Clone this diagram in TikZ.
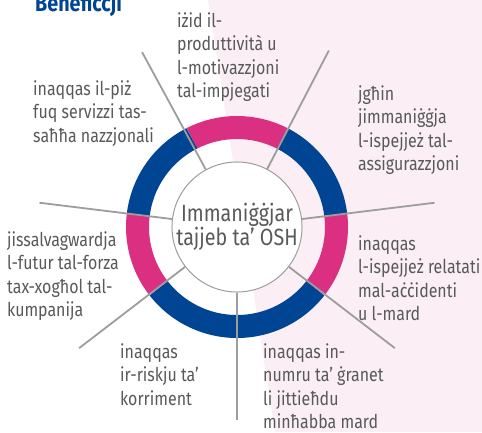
\documentclass[tikz,border=0pt]{standalone}
\usepackage{fontspec}
\setmainfont{Fira Sans}[FakeStretch=0.84]
\usetikzlibrary{calc}
\definecolor{osgray}{RGB}{88,89,91}
\definecolor{spokegray}{RGB}{157,157,157}
\definecolor{ringpink}{RGB}{219,48,130}
\definecolor{ringblue}{RGB}{0,68,148}
\definecolor{bgpink}{RGB}{251,239,245}
\tikzset{
  lbl/.style={anchor=base west, align=left, inner sep=0pt, text=osgray,
    font=\fontsize{19}{23.5}\selectfont},
  spoke/.style={draw=spokegray, line width=1.8pt},
  pinkseg/.style={draw=ringpink, line width=23pt},
  blueseg/.style={draw=ringblue, line width=23pt},
}
\begin{document}
\begin{tikzpicture}[x=1pt, y=-1pt]
  \useasboundingbox (0,0) rectangle (482,432);
  % background
  \fill[bgpink] (208,0) -- (482,0) -- (482,432) -- (275,432) -- cycle;
  % hub
  \node[circle, draw=spokegray, line width=1pt, fill=white, minimum size=128pt,
    inner sep=0pt, align=center, text=osgray,
    font=\fontsize{23.5}{21}\selectfont] (hub) at (237,227) {Immaniġġjar\\tajjeb ta’ OSH};
  % ring
  \draw[pinkseg] (hub.center) ++(-63:99.5) arc[start angle=-63, end angle=-117, radius=99.5];
  \draw[blueseg] (hub.center) ++(-7:99.5) arc[start angle=-7, end angle=-63, radius=99.5];
  \draw[pinkseg] (hub.center) ++(38:99.5) arc[start angle=38, end angle=-7, radius=99.5];
  \draw[blueseg] (hub.center) ++(142:99.5) arc[start angle=142, end angle=38, radius=99.5];
  \draw[pinkseg] (hub.center) ++(-173:99.5) arc[start angle=-173, end angle=-218, radius=99.5];
  \draw[blueseg] (hub.center) ++(-117:99.5) arc[start angle=-117, end angle=-173, radius=99.5];
  % spoke ends
  \coordinate (eprod) at ($(hub.center)+(-62.5:199)$);
  \coordinate (ecost) at ($(hub.center)+(-7:199)$);
  \coordinate (eacc) at ($(hub.center)+(37.5:199)$);
  \coordinate (edays) at ($(hub.center)+(90:193)$);
  \coordinate (erisk) at ($(hub.center)+(142.5:199)$);
  \coordinate (ework) at ($(hub.center)+(-173:199)$);
  \coordinate (enat) at ($(hub.center)+(-118.5:199)$);
  \draw[spoke] (hub) -- (eprod);
  \draw[spoke] (hub) -- (ecost);
  \draw[spoke] (hub) -- (eacc);
  \draw[spoke] (hub) -- (edays);
  \draw[spoke] (hub) -- (erisk);
  \draw[spoke] (hub) -- (ework);
  \draw[spoke] (hub) -- (enat);
  % labels (anchored at the baseline of their last line)
  \node[anchor=base west, inner sep=0pt, text=ringblue,
    font=\bfseries\fontsize{23.5}{24}\selectfont] (title) at (35,11) {Benefiċċji};
  \node[lbl] (prod) at (177,97.5) {iżid il-\\produttività u\\l-motivazzjoni\\tal-impjegati};
  \node[lbl] (cost) at (358,170.5) {jgħin\\jimmaniġġja\\l-ispejjeż tal-\\assigurazzjoni};
  \node[lbl] (nat) at (33,142) {inaqqas il-piż\\fuq servizzi tas-\\saħħa nazzjonali};
  \node[lbl] (work) at (7,316.5) {jissalvagwardja\\l-futur tal-forza\\tax-xogħol tal-\\kumpanija};
  \node[lbl] (acc) at (358,320.5) {inaqqas\\l-ispejjeż relatati\\mal-aċċidenti\\u l-mard};
  \node[lbl] (days) at (263,428.5) {inaqqas in-\\numru ta’ ġranet\\li jittieħdu\\minħabba mard};
  \node[lbl] (risk) at (120,405) {inaqqas\\ir-riskju ta’\\korriment};
\end{tikzpicture}
\end{document}
